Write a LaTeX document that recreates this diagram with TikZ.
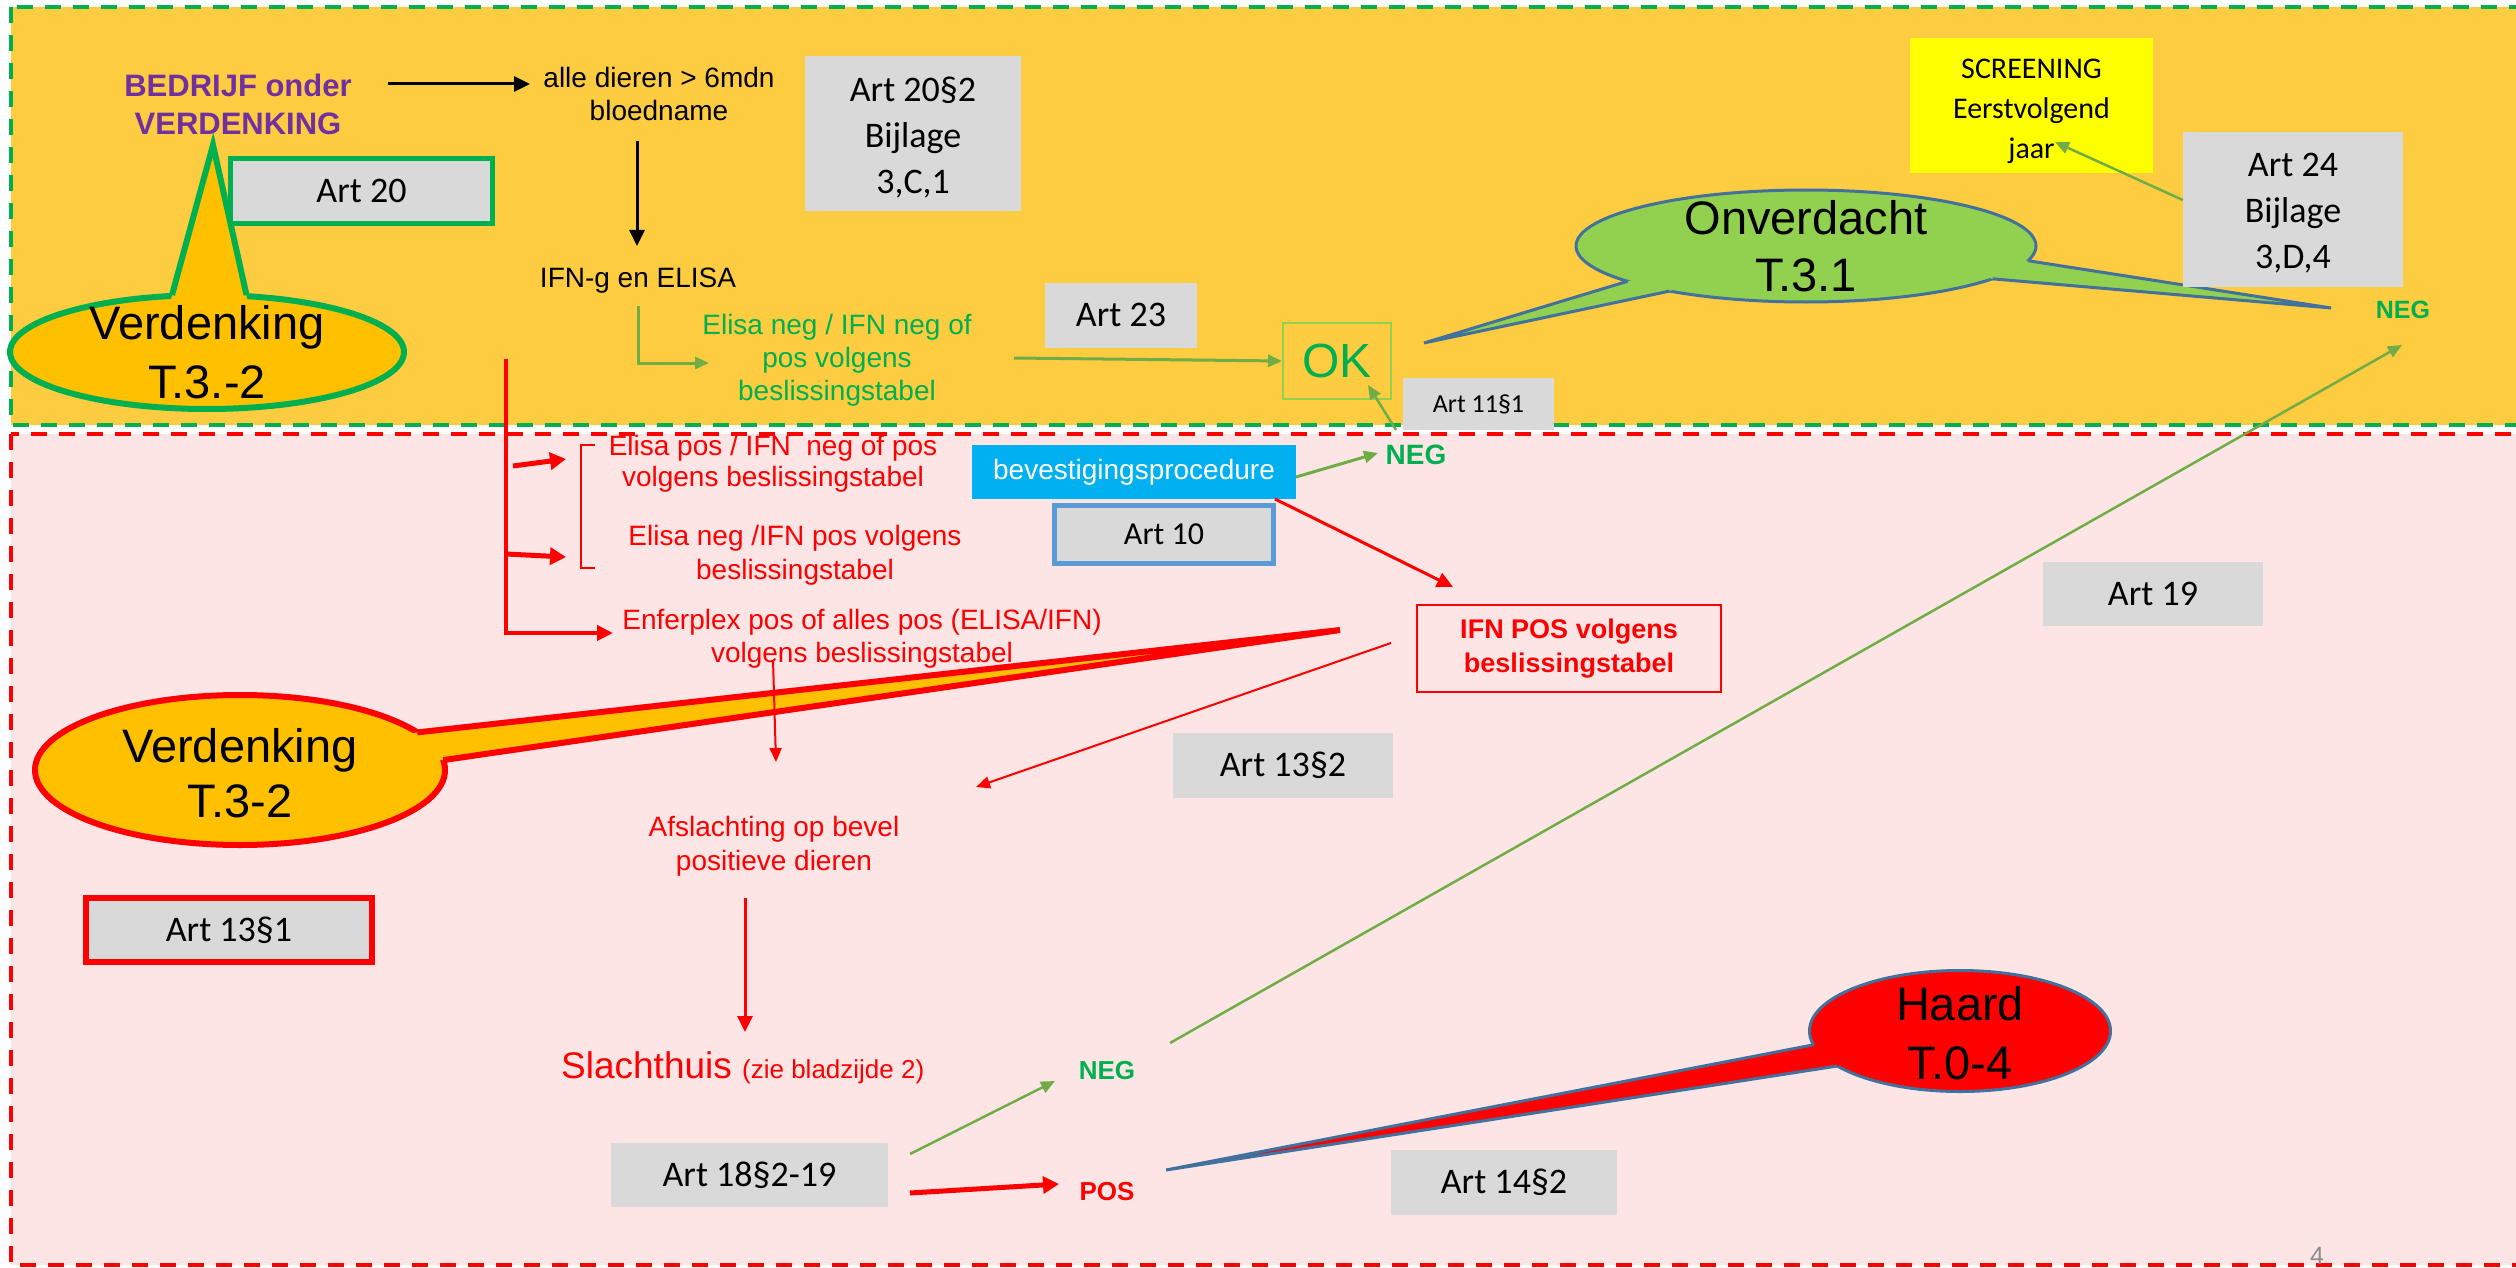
\documentclass[tikz,border=0pt]{standalone}
\usepackage{fontspec}
\setmainfont{Liberation Sans}
\newfontfamily\calib{Carlito}
\usetikzlibrary{arrows.meta}
\newcommand\myfs[2]{\fontsize{#1pt}{#2pt}\selectfont}
\definecolor{yel}{RGB}{253,204,64}
\definecolor{pinkbg}{RGB}{253,229,229}
\definecolor{gold}{RGB}{255,192,0}
\definecolor{grn}{RGB}{0,176,80}
\definecolor{lgrn}{RGB}{112,173,71}
\definecolor{okgrn}{RGB}{146,208,80}
\definecolor{purp}{RGB}{112,48,160}
\definecolor{gry}{RGB}{217,217,217}
\definecolor{cyanbox}{RGB}{0,176,240}
\definecolor{bluebd}{RGB}{65,113,156}
\definecolor{artblue}{RGB}{91,155,213}
\definecolor{scr}{RGB}{255,255,0}
\definecolor{pgnum}{RGB}{140,140,140}
\begin{document}
\begin{tikzpicture}[x=1pt,y=-1pt,
  txt/.style={inner sep=0pt, align=center, font=\myfs{28}{33}},
  gbox/.style={fill=gry, inner sep=0pt, align=center, font=\calib\myfs{36}{46}},
  blkarr/.style={draw=black, line width=3pt, -{Triangle[length=16pt,width=15pt]}},
  garr/.style={draw=lgrn, line width=2.5pt, -{Triangle[length=14pt,width=12pt]}},
  rarr/.style={draw=red, line width=3.5pt, -{Triangle[length=16pt,width=15pt]}},
  rthin/.style={draw=red, line width=2pt, -{Triangle[length=14pt,width=12pt]}},
  rthick/.style={draw=red, line width=5pt, -{Triangle[length=16pt,width=17pt]}},
  gdash/.style={draw=grn, line width=4pt, dash pattern=on 16pt off 12pt},
  rdash/.style={draw=red, line width=4pt, dash pattern=on 16pt off 12pt}]
\useasboundingbox (0,0) rectangle (2516,1268);
\fill[white] (0,0) rectangle (2516,1268);
% zones
\fill[yel] (11,7) rectangle (2530,425);
\draw[gdash] (11,7) rectangle (2530,425);
\fill[pinkbg] (11,434) rectangle (2530,1265);
\draw[rdash] (11,434) rectangle (2530,1265);

% callout Verdenking T.3.-2 (top)
\fill[gold] (170,303) -- (213,145) -- (248,303) -- cycle;
\draw[grn, line width=6pt, fill=gold] (207,352) ellipse [x radius=197pt, y radius=57pt];
\fill[gold] (170,303) -- (213,145) -- (248,303) -- cycle;
\draw[grn, line width=6pt] (172,295) -- (213,145) -- (246.5,295);

% callout Onverdacht
\fill[okgrn] (1645.4,277.8) -- (1627.5,281.3) -- (1424,343) -- (1669.5,291.1) -- (1683.2,286.6) -- cycle;
\fill[okgrn] (2005.3,259.2) -- (2028,260.7) -- (2331,308) -- (1992.5,278.8) -- (1974.4,275.5) -- cycle;
\draw[bluebd, line width=3pt, fill=okgrn] (1806,246) ellipse [x radius=230pt, y radius=56pt];
\fill[okgrn] (1645.4,277.8) -- (1627.5,281.3) -- (1424,343) -- (1669.5,291.1) -- (1683.2,286.6) -- cycle;
\fill[okgrn] (2005.3,259.2) -- (2028,260.7) -- (2331,308) -- (1992.5,278.8) -- (1974.4,275.5) -- cycle;
\draw[bluebd, line width=3pt] (1627.5,281.3) -- (1424,343) -- (1669.5,291.1);
\draw[bluebd, line width=3pt] (2028,260.7) -- (2331,308) -- (1992.5,278.8);

% callout Verdenking T.3-2 (bottom)
\fill[gold] (396.6,736.1) -- (417.3,732.4) -- (1340,630) -- (443.2,760.1) -- (422.9,761.1) -- cycle;
\draw[red, line width=6pt, fill=gold] (240,770) ellipse [x radius=205pt, y radius=75pt];
\fill[gold] (396.6,736.1) -- (417.3,732.4) -- (1340,630) -- (443.2,760.1) -- (422.9,761.1) -- cycle;
\draw[red, line width=6pt] (417.3,732.4) -- (1340,630) -- (443.2,760.1);

% callout Haard
\fill[red] (1828.2,1043.4) -- (1813.5,1044.8) -- (1166,1170) -- (1837.3,1066) -- (1849.6,1062.5) -- cycle;
\draw[bluebd, line width=3pt, fill=red] (1960,1031) ellipse [x radius=150.5pt, y radius=60.5pt];
\fill[red] (1828.2,1043.4) -- (1813.5,1044.8) -- (1166,1170) -- (1837.3,1066) -- (1849.6,1062.5) -- cycle;
\draw[bluebd, line width=3pt] (1813.5,1044.8) -- (1166,1170) -- (1837.3,1066);

% callout texts
\node[txt, font=\myfs{47}{59}] (verd1) at (207,352) {Verdenking\\T.3.-2};
\node[txt, font=\myfs{47}{57}] (onv) at (1806,246) {Onverdacht\\T.3.1};
\node[txt, font=\myfs{47}{55}] (verd2) at (240,773) {Verdenking\\T.3-2};
\node[txt, font=\myfs{47}{59}] (haard) at (1960,1033) {Haard\\T.0-4};

% top zone nodes
\node[txt, text=purp, font=\bfseries\myfs{31}{38}] (bedrijf) at (238,104) {BEDRIJF onder\\VERDENKING};
\node[txt] (alle) at (659,94) {alle dieren > 6mdn\\bloedname};
\node[txt] (ifng) at (638,281) {IFN-g en ELISA};
\node[txt, text=grn] (elneg) at (837,360) {Elisa neg / IFN neg of\\pos volgens\\beslissingstabel};
\node[gbox, minimum width=216pt, minimum height=155pt] (art20s2) at (913,133.5) {\rule{0pt}{33pt}Art 20§2\\Bijlage\\3,C,1};
\node[gbox, draw=grn, line width=5pt, minimum width=262pt, minimum height=65pt] (art20) at (361.5,191) {Art 20};
\node[gbox, minimum width=152pt, minimum height=65pt] (art23) at (1121,315) {Art 23};
\node[draw=okgrn, line width=2pt, minimum width=108pt, minimum height=76pt, inner sep=0pt, text=grn, font=\myfs{48}{48}] (ok) at (1337,361) {OK};
\node[gbox, font=\calib\myfs{26}{30}, minimum width=151pt, minimum height=52pt] (art11) at (1478.5,404) {Art 11§1};
\node[fill=scr, inner sep=0pt, align=center, font=\calib\myfs{30}{40}, minimum width=243pt, minimum height=135pt] (screen) at (2031.5,105.5) {\rule{0pt}{32pt}SCREENING\\Eerstvolgend\\jaar};
\node[gbox, minimum width=220pt, minimum height=155pt] (art24) at (2293,209.5) {\rule{0pt}{31pt}Art 24\\Bijlage\\3,D,4};
\node[txt, text=grn, font=\bfseries\myfs{25}{30}] (neg1) at (2403,310) {NEG};

% bottom zone nodes
\node[txt, text=red, font=\myfs{28}{31}] (elpos) at (773,464) {Elisa pos / IFN~ neg of pos\\volgens beslissingstabel};
\node[txt, text=red, font=\myfs{28}{34}] (elneg2) at (795,555) {Elisa neg /IFN pos volgens\\beslissingstabel};
\node[txt, text=red] (enfer) at (862,639) {Enferplex pos of alles pos (ELISA/IFN)\\volgens beslissingstabel};
\node[fill=cyanbox, text=white, inner sep=0pt, font=\myfs{28}{33}, minimum width=324pt, minimum height=54pt] (beves) at (1134,472) {bevestigingsprocedure};
\node[txt, text=grn, font=\bfseries\myfs{28}{33}] (neg2) at (1416,455) {NEG};
\node[gbox, draw=artblue, line width=5pt, font=\calib\myfs{32}{40}, minimum width=219pt, minimum height=58pt] (art10) at (1164,534.5) {Art 10};
\node[draw=red, line width=2pt, inner sep=0pt, align=center, text=red, font=\bfseries\myfs{27}{34}, minimum width=304pt, minimum height=87pt] (ifnpos) at (1569,648.5) {IFN POS volgens\\beslissingstabel};
\node[gbox, minimum width=220pt, minimum height=64pt] (art19) at (2153,594) {Art 19};
\node[gbox, minimum width=220pt, minimum height=65pt] (art13s2) at (1283,765) {Art 13§2};
\node[txt, text=red, font=\myfs{28}{34}] (afsl) at (774,846) {Afslachting op bevel\\positieve dieren};
\node[gbox, draw=red, line width=6pt, minimum width=286pt, minimum height=64pt] (art13s1) at (229,930) {Art 13§1};
\node[text=red, inner sep=0pt, anchor=base west, font=\myfs{37}{40}] (slacht) at (561,1078) {Slachthuis {\myfs{26}{30}(zie bladzijde 2)}};
\node[gbox, minimum width=277pt, minimum height=64pt] (art18) at (749.5,1175) {Art 18§2-19};
\node[txt, text=grn, font=\bfseries\myfs{26}{30}] (neg3) at (1107,1071) {NEG};
\node[txt, text=red, font=\bfseries\myfs{26}{30}] (pos) at (1107,1192) {POS};
\node[gbox, minimum width=226pt, minimum height=65pt] (art14) at (1504,1182.5) {Art 14§2};
\node[text=pgnum, inner sep=0pt, font=\myfs{25}{30}] (pg) at (2317,1256) {4};

% bracket
\draw[red, line width=1.5pt] (595,445) -- (581,445) -- (581,568) -- (595,568);

% connectors
\draw[blkarr] ([shift={(150,-20)}]bedrijf.center) -- ([shift={(-129,-10)}]alle.center);
\draw[blkarr] ([shift={(-22,47)}]alle.center) -- ([shift={(-1,-35)}]ifng.center);
\draw[garr, line width=3pt] ([shift={(0,25)}]ifng.center) |- ([shift={(-128,3)}]elneg.center);
\draw[garr, line width=3pt] ([shift={(177,-2)}]elneg.center) -- (ok.west);
\draw[garr] ([shift={(-20,-25)}]neg2.center) -- ([shift={(31,24)}]ok.center);
\draw[garr] ([shift={(0,-9.5)}]art24.west) -- ([shift={(23.5,36.5)}]screen.center);
\draw[garr] ([shift={(63,-28)}]neg3.center) -- ([shift={(-1,35)}]neg1.center);

\coordinate (rtop) at (506,359);
\coordinate (b1s) at (513,466);
\coordinate (b1e) at (566,459);
\coordinate (b2s) at (506,554);
\coordinate (b2e) at (566,557);
\draw[rarr, line width=4pt] (rtop) |- ([shift={(-249,-6)}]enfer.center);
\draw[rthick] (b1s) -- (b1e);
\draw[rthick] (b2s) -- (b2e);

\draw[garr, line width=3pt] ([shift={(162,5)}]beves.center) -- ([shift={(-38,-2)}]neg2.center);
\draw[rarr, line width=3pt] ([shift={(141,27)}]beves.center) -- ([shift={(-116,-61.5)}]ifnpos.center);
\draw[rthin] ([shift={(-178,-5.5)}]ifnpos.center) -- ([shift={(202,-59)}]afsl.center);
\draw[rthin] ([shift={(-89,21)}]enfer.center) -- ([shift={(2,-84)}]afsl.center);
\draw[rarr, line width=3pt] ([shift={(-29,52)}]afsl.center) -- ([shift={(184,-46)}]slacht.base west);
\draw[garr] ([shift={(160.5,-21)}]art18.center) -- ([shift={(-52,10)}]neg3.center);
\draw[rthick] ([shift={(160.5,18)}]art18.center) -- ([shift={(-48,-8)}]pos.center);
\end{tikzpicture}
\end{document}
